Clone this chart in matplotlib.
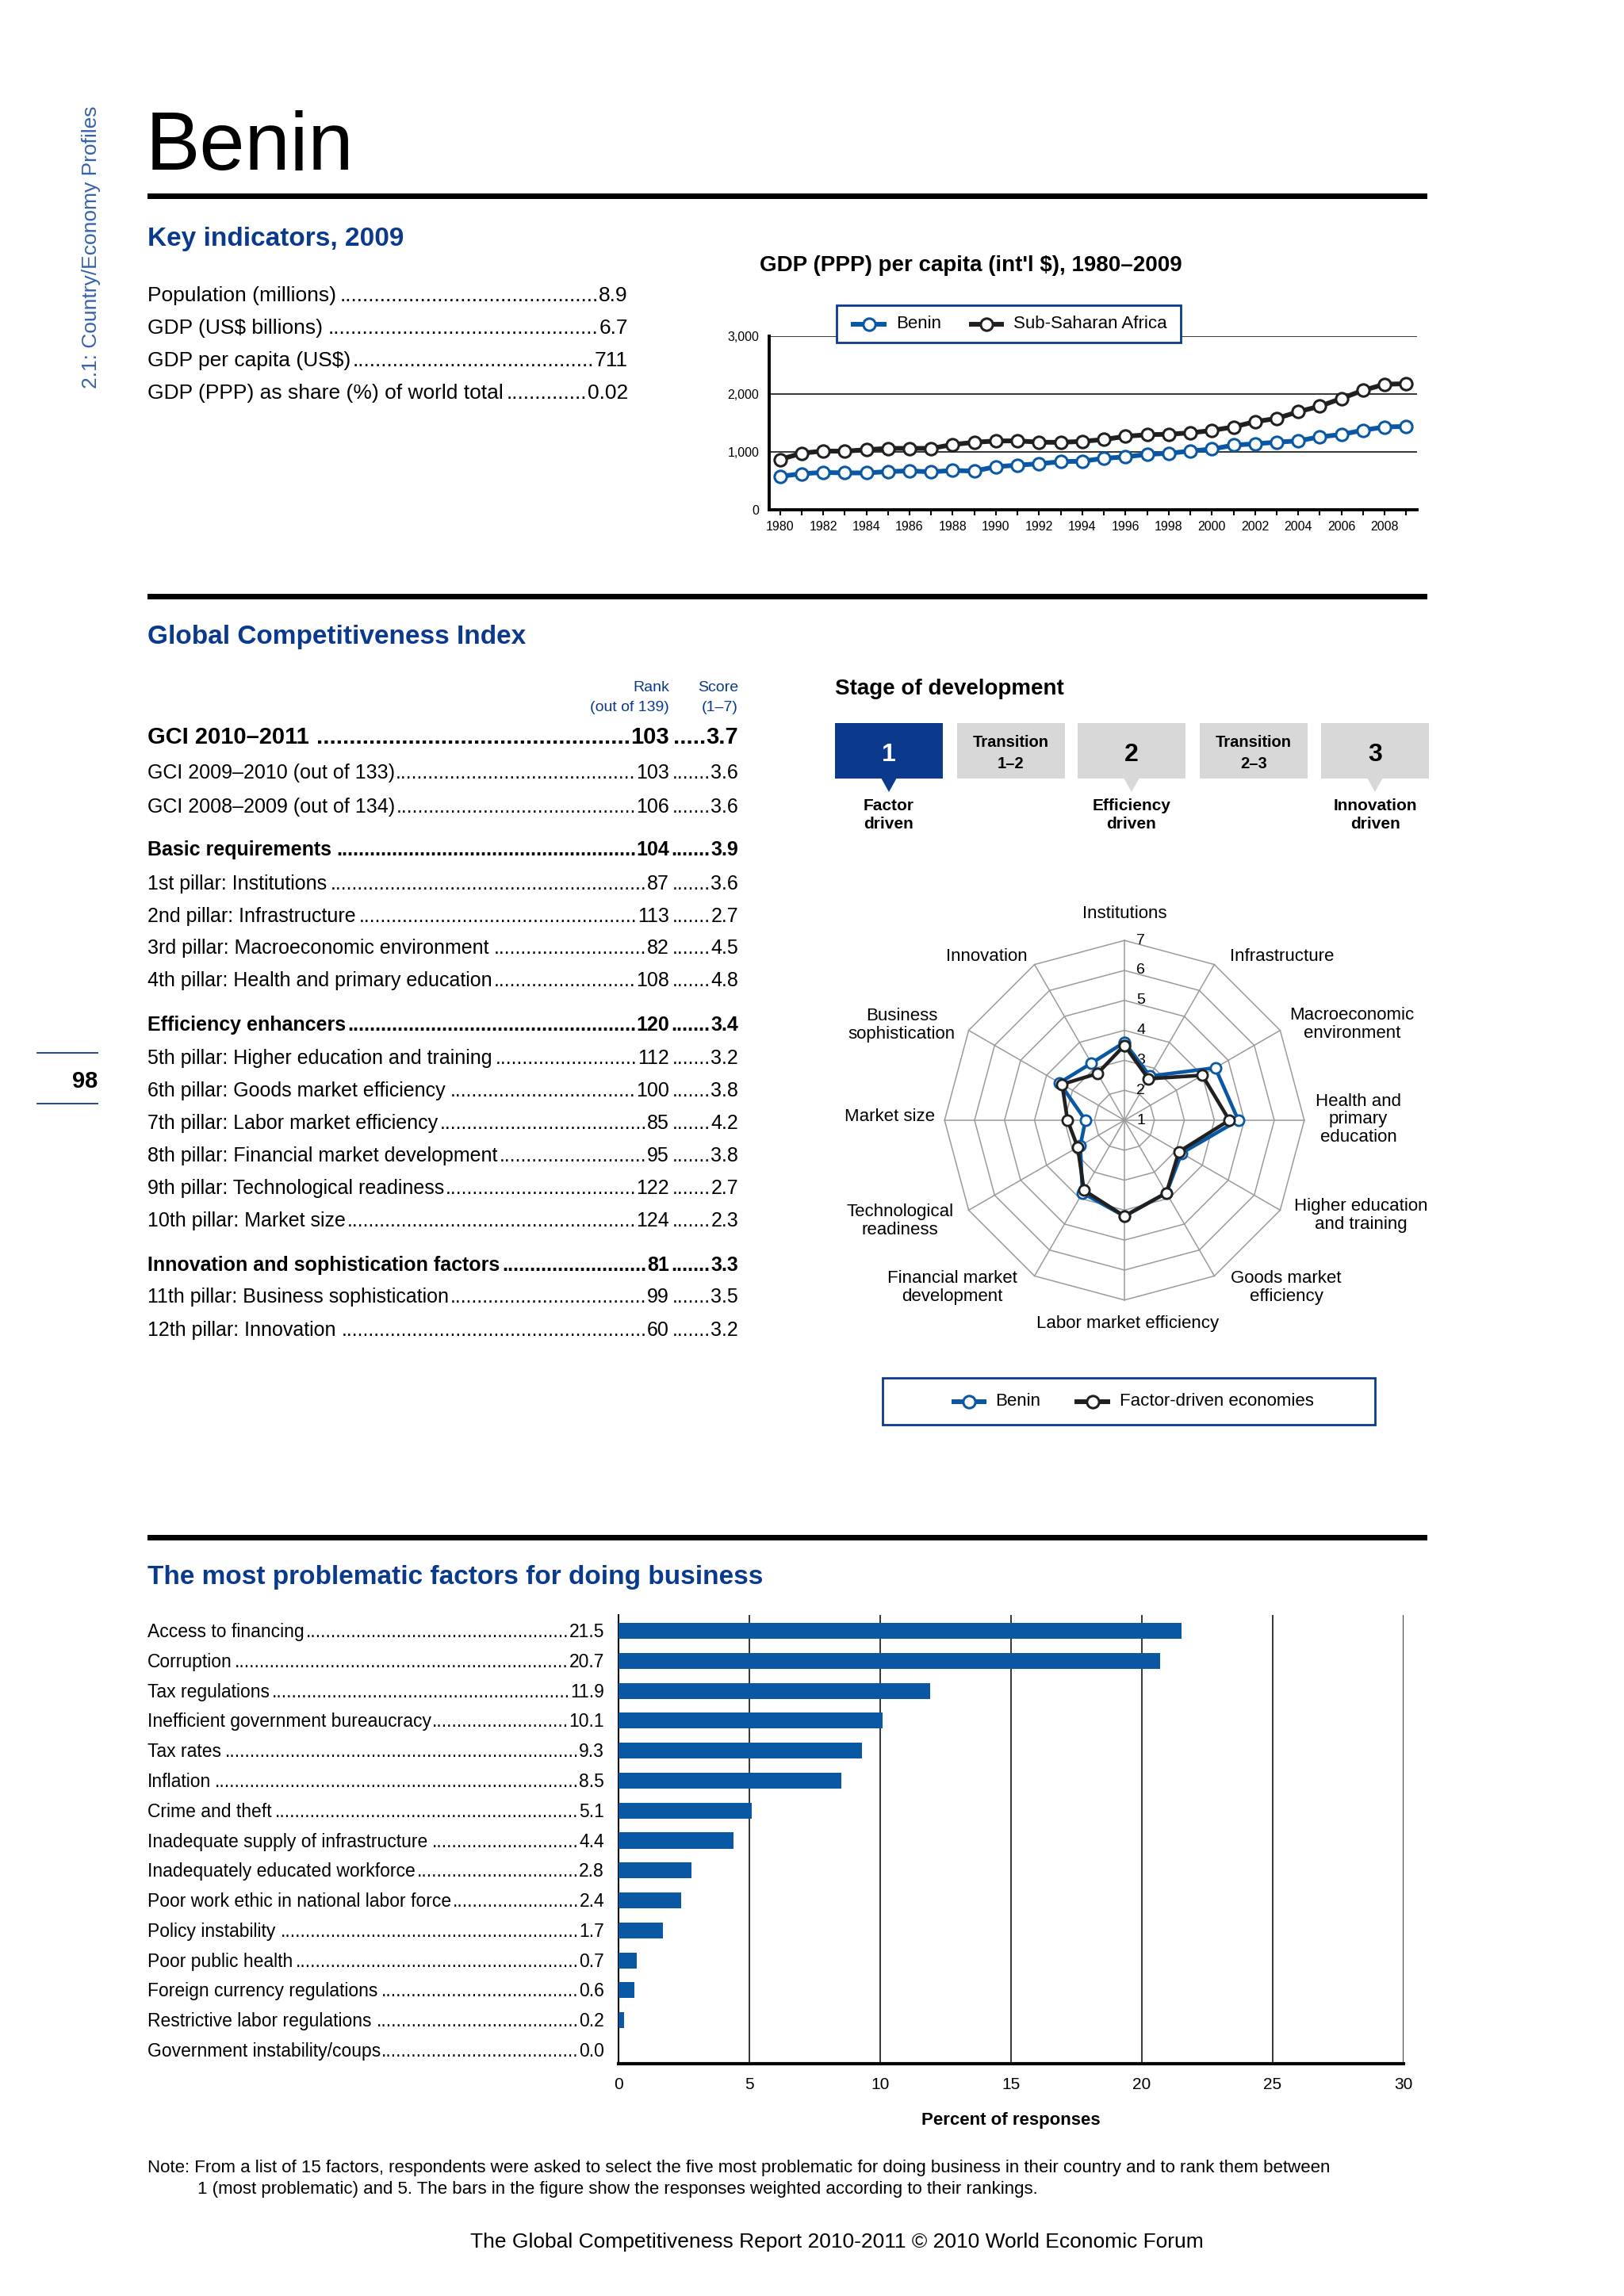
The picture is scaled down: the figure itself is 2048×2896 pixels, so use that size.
import numpy as np
import matplotlib
matplotlib.use("Agg")
import matplotlib.pyplot as plt
from matplotlib.patches import Rectangle, Polygon

plt.rcParams['font.family'] = ['Liberation Sans', 'DejaVu Sans']

NAVY = '#0b3a8c'
SIDE = '#3562aa'
BLUE = '#0a58a3'
DARK = '#202020'
RING = '#9a9a9a'

# ---------------- data ----------------
key_labels = ["Population (millions)", "GDP (US\\$ billions)", "GDP per capita (US\\$)",
              "GDP (PPP) as share (%) of world total"]
key_values = ["8.9", "6.7", "711", "0.02"]

years = list(range(1980, 2010))
benin_gdp = [577, 623, 646, 637, 637, 660, 672, 655, 680, 669, 745, 771, 796, 831, 840,
             889, 914, 958, 975, 1015, 1048, 1117, 1140, 1168, 1191, 1260, 1301, 1375, 1431, 1440]
ssa_gdp = [868, 978, 1015, 1012, 1038, 1061, 1061, 1061, 1127, 1166, 1189, 1191, 1168, 1165, 1182,
           1214, 1269, 1297, 1306, 1329, 1371, 1431, 1523, 1578, 1694, 1790, 1924, 2063, 2169, 2178]

gci_labels = ["GCI 2010\u20132011", "GCI 2009\u20132010 (out of 133)", "GCI 2008\u20132009 (out of 134)",
              "Basic requirements", "1st pillar: Institutions", "2nd pillar: Infrastructure",
              "3rd pillar: Macroeconomic environment", "4th pillar: Health and primary education",
              "Efficiency enhancers", "5th pillar: Higher education and training",
              "6th pillar: Goods market efficiency", "7th pillar: Labor market efficiency",
              "8th pillar: Financial market development", "9th pillar: Technological readiness",
              "10th pillar: Market size", "Innovation and sophistication factors",
              "11th pillar: Business sophistication", "12th pillar: Innovation"]
gci_ranks = ["103", "103", "106", "104", "87", "113", "82", "108", "120", "112", "100", "85",
             "95", "122", "124", "81", "99", "60"]
gci_scores = ["3.7", "3.6", "3.6", "3.9", "3.6", "2.7", "4.5", "4.8", "3.4", "3.2", "3.8", "4.2",
              "3.8", "2.7", "2.3", "3.3", "3.5", "3.2"]

stage_boxes = ["1", "Transition\n1\u20132", "2", "Transition\n2\u20133", "3"]
stage_names = ["Factor\ndriven", "Efficiency\ndriven", "Innovation\ndriven"]
stage_current = 0

pillars = ["Institutions", "Infrastructure", "Macroeconomic\nenvironment", "Health and\nprimary\neducation",
           "Higher education\nand training", "Goods market\nefficiency", "Labor market efficiency",
           "Financial market\ndevelopment", "Technological\nreadiness", "Market size",
           "Business\nsophistication", "Innovation"]
benin_scores = [3.6, 2.7, 4.5, 4.8, 3.2, 3.8, 4.2, 3.8, 2.7, 2.3, 3.5, 3.2]
factor_scores = [3.5, 2.6, 4.0, 4.5, 3.1, 3.8, 4.2, 3.7, 2.8, 2.9, 3.4, 2.8]

factors = ["Access to financing", "Corruption", "Tax regulations", "Inefficient government bureaucracy",
           "Tax rates", "Inflation", "Crime and theft", "Inadequate supply of infrastructure",
           "Inadequately educated workforce", "Poor work ethic in national labor force",
           "Policy instability", "Poor public health", "Foreign currency regulations",
           "Restrictive labor regulations", "Government instability/coups"]
factor_pct = [21.5, 20.7, 11.9, 10.1, 9.3, 8.5, 5.1, 4.4, 2.8, 2.4, 1.7, 0.7, 0.6, 0.2, 0.0]

# ---------------- page ----------------
W, H = 2048, 2896
fig = plt.figure(figsize=(W / 100, H / 100), dpi=100)
fig.patch.set_facecolor('white')
ax0 = fig.add_axes([0, 0, 1, 1])
ax0.set_xlim(0, W)
ax0.set_ylim(H, 0)
ax0.axis('off')
renderer = fig.canvas.get_renderer()


def frac(x0, y0, x1, y1):
    return [x0 / W, 1 - y1 / H, (x1 - x0) / W, (y1 - y0) / H]


def txt(x, y, s, size, weight='normal', color='black', ha='left', va='baseline', ax=None, **kw):
    ax = ax or ax0
    return ax.text(x, y, s, fontsize=size, fontweight=weight, color=color, ha=ha, va=va, **kw)


def extent(t):
    return t.get_window_extent(renderer)


def dots(x_from, x_to, y, size, weight='normal'):
    probe = txt(0, 0, '.' * 40, size, weight)
    w = extent(probe).width / 40
    probe.remove()
    n = int((x_to - x_from - 1) / w)
    if n > 0:
        txt(x_to - 0.5, y, '.' * n, size, weight, ha='right')


def leader(y, label, values, rights, size, weight='normal', x=186):
    t = txt(x, y, label, size, weight)
    prev = extent(t).x1
    for v, xr in zip(values, rights):
        tv = txt(xr, y, v, size, weight, ha='right')
        dots(prev, extent(tv).x0, y, size, weight)
        prev = xr


def rule(y):
    ax0.add_patch(Rectangle((186, y - 3.5), 1614, 7, color='black', lw=0))


# header
txt(115, 312, "2.1: Country/Economy Profiles", 19, color=SIDE, ha='center', va='center', rotation=90)
txt(184, 214, "Benin", 74)
rule(247)

txt(186, 310, "Key indicators, 2009", 24, 'bold', NAVY)
for yb, lab, val in zip([380, 421, 462, 503], key_labels, key_values):
    leader(yb, lab, [val], [792], 19)

# GDP chart
txt(1224, 342, "GDP (PPP) per capita (int'l \\$), 1980\u20132009", 20, 'bold', ha='center')
axg = fig.add_axes(frac(970, 424, 1787, 643))
axg.patch.set_alpha(0)
axg.plot(years, benin_gdp, '-o', color=BLUE, lw=4.3, ms=11, mfc='white', mec=BLUE, mew=2.2, zorder=3,
         clip_on=False)
axg.plot(years, ssa_gdp, '-o', color=DARK, lw=4.3, ms=11, mfc='white', mec=DARK, mew=2.2, zorder=3,
         clip_on=False)
axg.set_xlim(1979.5, 2009.5)
axg.set_ylim(0, 3000)
axg.set_yticks([0, 1000, 2000, 3000])
axg.set_yticklabels(['0', '1,000', '2,000', '3,000'])
axg.set_xticks(years)
axg.set_xticklabels([str(y) if y % 2 == 0 else '' for y in years])
axg.grid(axis='y', color='black', lw=1.1)
axg.set_axisbelow(True)
for s in ['top', 'right']:
    axg.spines[s].set_visible(False)
for s in ['left', 'bottom']:
    axg.spines[s].set_linewidth(2.8)
axg.tick_params(axis='y', length=0, pad=9, labelsize=11.5)
axg.tick_params(axis='x', length=5, width=1.5, pad=5, labelsize=11.5)

# GCI table
rule(752)
txt(186, 812, "Global Competitiveness Index", 24, 'bold', NAVY)
txt(844, 872, "Rank", 14, color=NAVY, ha='right')
txt(844, 897, "(out of 139)", 14, color=NAVY, ha='right')
txt(931, 872, "Score", 14, color=NAVY, ha='right')
txt(931, 897, "(1\u20137)", 14, color=NAVY, ha='right')

row_base = [938, 982, 1025, 1079, 1122, 1163, 1203, 1244, 1300, 1342, 1383, 1424, 1465, 1506, 1547,
            1603, 1643, 1685]
bold_rows = {0, 3, 8, 15}
for i, (lab, rk, sc) in enumerate(zip(gci_labels, gci_ranks, gci_scores)):
    size = 21 if i == 0 else 18
    weight = 'bold' if i in bold_rows else 'normal'
    if i == 0:
        lab = lab + ' '
    leader(row_base[i], lab, [rk, sc], [844, 931], size, weight)

# stage of development
txt(1053, 876, "Stage of development", 20, 'bold')
box_left = [1053, 1207, 1359, 1513, 1666]
box_w = 136
for i, lab in enumerate(stage_boxes):
    fc = NAVY if i == stage_current else '#d8d8d8'
    tc = 'white' if i == stage_current else 'black'
    x0 = box_left[i]
    cx = x0 + box_w / 2
    ax0.add_patch(Rectangle((x0, 912), box_w, 70, color=fc, lw=0))
    if '\n' in lab:
        l1, l2 = lab.split('\n')
        txt(cx, 942, l1, 14.5, 'bold', tc, ha='center')
        txt(cx, 969, l2, 14.5, 'bold', tc, ha='center')
    else:
        txt(cx, 960, lab, 23, 'bold', tc, ha='center')
    if i % 2 == 0:
        ax0.add_patch(Polygon([(cx - 10, 981), (cx + 10, 981), (cx, 999)], closed=True, color=fc, lw=0))
        l1, l2 = stage_names[i // 2].split('\n')
        txt(cx, 1022, l1, 15, 'bold', ha='center')
        txt(cx, 1045, l2, 15, 'bold', ha='center')

# radar
RCX, RCY, UNIT = 1418, 1413, 37.8
half = 245
axr = fig.add_axes(frac(RCX - half, RCY - half, RCX + half, RCY + half))
axr.set_xlim(-half / UNIT, half / UNIT)
axr.set_ylim(-half / UNIT, half / UNIT)
axr.axis('off')
n = len(pillars)
theta = np.arange(n + 1) * 2 * np.pi / n


def radar_xy(vals):
    v = np.append(vals, vals[0]) - 1
    return v * np.sin(theta), v * np.cos(theta)


for lvl in range(2, 8):
    gx, gy = radar_xy(np.full(n, float(lvl)))
    axr.plot(gx, gy, color=RING, lw=1.1, zorder=1)
for th in theta[:-1]:
    axr.plot([0, 6 * np.sin(th)], [0, 6 * np.cos(th)], color=RING, lw=1.1, zorder=1)
for lvl in range(1, 8):
    axr.annotate(str(lvl), (0, lvl - 1), xytext=(15, 0), textcoords='offset points',
                 ha='center', va='center', fontsize=14, zorder=2)
bx, by = radar_xy(np.array(benin_scores))
axr.plot(bx, by, '-o', color=BLUE, lw=3.3, ms=9.5, mfc='white', mec=BLUE, mew=2, zorder=3, clip_on=False)
fx, fy = radar_xy(np.array(factor_scores))
axr.plot(fx, fy, '-o', color=DARK, lw=3.3, ms=9.5, mfc='white', mec=DARK, mew=2, zorder=4, clip_on=False)

label_offsets = [(0, -261), (199, -206), (287, -121), (295, -1), (298, 120), (204, 211),
                 (4, 256), (-217, 211), (-283, 127), (-296, -4), (-281, -120), (-174, -206)]
for lab, (dx, dy) in zip(pillars, label_offsets):
    txt(RCX + dx, RCY + dy, lab, 16, ha='center', va='center', multialignment='center',
        linespacing=1.1)

# bar chart
rule(1939)
txt(186, 1998, "The most problematic factors for doing business", 24, 'bold', NAVY)
axb = fig.add_axes(frac(780, 2037, 1770, 2603))
axb.patch.set_alpha(0)
ypos = np.arange(len(factors))
axb.barh(ypos, factor_pct, height=0.53, color=BLUE, zorder=3)
axb.set_xlim(0, 30)
axb.set_ylim(len(factors) - 0.55, -0.53)
axb.set_xticks(range(0, 31, 5))
axb.set_yticks([])
axb.grid(axis='x', color='black', lw=1.1, zorder=0)
axb.set_axisbelow(True)
for s in ['top', 'right']:
    axb.spines[s].set_visible(False)
axb.spines['left'].set_linewidth(1.5)
axb.spines['bottom'].set_linewidth(3)
axb.tick_params(axis='x', length=0, pad=12, labelsize=15)
for i, (lab, v) in enumerate(zip(factors, factor_pct)):
    yc = H - axb.transData.transform((0, i))[1]
    leader(yc + 8, lab, [f"{v:.1f}"], [762], 16.5)
txt(1275, 2680, "Percent of responses", 16, 'bold', ha='center')

txt(186, 2740, "Note: From a list of 15 factors, respondents were asked to select the five most problematic "
               "for doing business in their country and to rank them between", 16)
txt(249, 2767, "1 (most problematic) and 5. The bars in the figure show the responses weighted "
               "according to their rankings.", 16)

txt(1055, 2835, "The Global Competitiveness Report 2010-2011 \u00a9 2010 World Economic Forum", 19, ha='center')

# page number
ax0.plot([47, 123], [1328, 1328], color=NAVY, lw=1.3)
ax0.plot([47, 123], [1392, 1392], color=NAVY, lw=1.3)
txt(123, 1372, "98", 21, 'bold', ha='right')

# legends on top
axt = fig.add_axes([0, 0, 1, 1])
axt.set_xlim(0, W)
axt.set_ylim(H, 0)
axt.axis('off')


def legend_box(x0, y0, x1, y1, items):
    axt.add_patch(Rectangle((x0, y0), x1 - x0, y1 - y0, facecolor='white', edgecolor=NAVY, lw=2))
    yc = (y0 + y1) / 2
    for (lx0, lx1, tx, label, col) in items:
        axt.plot([lx0, lx1], [yc, yc], color=col, lw=4.3, solid_capstyle='butt')
        axt.plot([(lx0 + lx1) / 2], [yc], 'o', ms=11, mfc='white', mec=col, mew=2.2)
        txt(tx, yc, label, 16, va='center', ax=axt)


legend_box(1055, 385, 1489, 432, [(1073, 1118, 1130, "Benin", BLUE),
                                  (1222, 1266, 1278, "Sub-Saharan Africa", DARK)])
legend_box(1113, 1738, 1734, 1797, [(1200, 1244, 1255, "Benin", BLUE),
                                    (1355, 1400, 1412, "Factor-driven economies", DARK)])

fig.savefig("out.png", dpi=100)
